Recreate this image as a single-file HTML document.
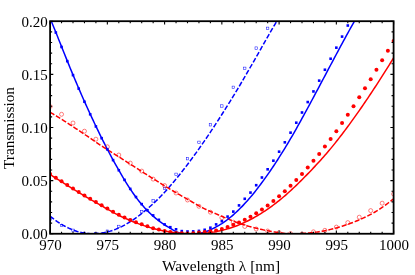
<!DOCTYPE html>
<html><head><meta charset="utf-8"><title>Transmission</title>
<style>html,body{margin:0;padding:0;background:#fff;}body{width:415px;height:275px;position:relative;overflow:hidden;font-family:"Liberation Serif",serif;} .t{font-family:"Liberation Serif",serif;}</style>
</head><body>
<svg width="415" height="275" viewBox="0 0 415 275" style="position:absolute;left:0;top:0">
<defs><clipPath id="c"><rect x="50.10" y="21.20" width="343.50" height="212.55"/></clipPath></defs>
<g clip-path="url(#c)" fill="none">
<path d="M50.10 216.16 L51.53 217.33 L52.96 218.45 L54.39 219.54 L55.83 220.58 L57.26 221.59 L58.69 222.55 L60.12 223.47 L61.55 224.35 L62.98 225.20 L64.41 226.00 L65.84 226.76 L67.28 227.48 L68.71 228.16 L70.14 228.80 L71.57 229.41 L73.00 229.97 L74.43 230.49 L75.86 230.97 L77.29 231.42 L78.72 231.82 L80.16 232.19 L81.59 232.52 L83.02 232.80 L84.45 233.05 L85.88 233.26 L87.31 233.44 L88.74 233.57 L90.17 233.67 L91.61 233.73 L93.04 233.75 L94.47 233.73 L95.90 233.68 L97.33 233.59 L98.76 233.46 L100.19 233.30 L101.62 233.10 L103.06 232.86 L104.49 232.59 L105.92 232.28 L107.35 231.93 L108.78 231.55 L110.21 231.14 L111.64 230.69 L113.07 230.20 L114.51 229.68 L115.94 229.13 L117.37 228.54 L118.80 227.91 L120.23 227.26 L121.66 226.57 L123.09 225.84 L124.53 225.08 L125.96 224.29 L127.39 223.47 L128.82 222.62 L130.25 221.73 L131.68 220.81 L133.11 219.86 L134.54 218.88 L135.97 217.87 L137.41 216.82 L138.84 215.75 L140.27 214.65 L141.70 213.51 L143.13 212.35 L144.56 211.18 L145.99 209.98 L147.42 208.77 L148.86 207.53 L150.29 206.27 L151.72 204.98 L153.15 203.68 L154.58 202.34 L156.01 200.99 L157.44 199.60 L158.88 198.19 L160.31 196.75 L161.74 195.28 L163.17 193.78 L164.60 192.24 L166.03 190.68 L167.46 189.10 L168.89 187.48 L170.32 185.85 L171.76 184.18 L173.19 182.50 L174.62 180.79 L176.05 179.06 L177.48 177.30 L178.91 175.53 L180.34 173.73 L181.77 171.92 L183.21 170.08 L184.64 168.23 L186.07 166.36 L187.50 164.47 L188.93 162.57 L190.36 160.65 L191.79 158.71 L193.22 156.76 L194.66 154.80 L196.09 152.82 L197.52 150.82 L198.95 148.81 L200.38 146.78 L201.81 144.74 L203.24 142.68 L204.67 140.60 L206.11 138.51 L207.54 136.39 L208.97 134.26 L210.40 132.12 L211.83 129.96 L213.26 127.78 L214.69 125.60 L216.12 123.40 L217.56 121.19 L218.99 118.97 L220.42 116.74 L221.85 114.50 L223.28 112.25 L224.71 109.98 L226.14 107.70 L227.57 105.41 L229.01 103.11 L230.44 100.80 L231.87 98.48 L233.30 96.15 L234.73 93.80 L236.16 91.44 L237.59 89.07 L239.02 86.67 L240.46 84.25 L241.89 81.82 L243.32 79.37 L244.75 76.92 L246.18 74.45 L247.61 71.97 L249.04 69.49 L250.47 67.00 L251.91 64.51 L253.34 62.02 L254.77 59.53 L256.20 57.04 L257.63 54.55 L259.06 52.04 L260.49 49.51 L261.93 46.98 L263.36 44.44 L264.79 41.90 L266.22 39.37 L267.65 36.85 L269.08 34.34 L270.51 31.86 L271.94 29.40 L273.38 26.97 L274.81 24.57 L276.24 22.21 L277.67 19.86 L279.10 17.52 L280.53 15.19 L281.96 12.86 L283.39 10.54 L284.82 8.23 L286.26 5.93 L287.69 3.64 L289.12 1.36 L290.55 -0.91 L291.98 -3.17 L293.41 -5.42 L294.84 -7.66 L296.27 -9.89 L297.71 -12.10 L299.14 -14.31 L300.57 -16.50 L302.00 -18.67 L303.43 -20.83 L304.86 -22.98 L306.29 -25.11 L307.73 -27.23 L309.16 -29.33 L310.59 -31.42 L312.02 -33.49 L313.45 -35.54 L314.88 -37.58 L316.31 -39.59 L317.74 -41.59 L319.18 -43.58 L320.61 -45.54 L322.04 -47.48 L323.47 -49.41 L324.90 -51.31 L326.33 -53.20 L327.76 -55.06 L329.19 -56.90 L330.62 -58.72 L332.06 -60.52 L333.49 -62.30 L334.92 -64.05 L336.35 -65.79 L337.78 -67.49 L339.21 -69.18 L340.64 -70.84 L342.07 -72.48 L343.51 -74.09 L344.94 -75.67 L346.37 -77.23 L347.80 -78.77 L349.23 -80.28 L350.66 -81.76 L352.09 -83.22 L353.52 -84.64 L354.96 -86.05 L356.39 -87.42 L357.82 -88.76 L359.25 -90.08 L360.68 -91.37 L362.11 -92.63 L363.54 -93.85 L364.98 -95.05 L366.41 -96.22 L367.84 -97.36 L369.27 -98.47 L370.70 -99.55 L372.13 -100.59 L373.56 -101.61 L374.99 -102.59 L376.43 -103.54 L377.86 -104.46 L379.29 -105.35 L380.72 -106.20 L382.15 -107.02 L383.58 -107.80 L385.01 -108.56 L386.44 -109.28 L387.88 -109.96 L389.31 -110.61 L390.74 -111.23 L392.17 -111.81 L393.60 -112.35" stroke="#0000ff" stroke-width="1.5" stroke-dasharray="5 1.9"/>
<path d="M50.10 112.16 L51.53 113.03 L52.96 113.90 L54.39 114.78 L55.83 115.66 L57.26 116.55 L58.69 117.44 L60.12 118.34 L61.55 119.25 L62.98 120.16 L64.41 121.07 L65.84 121.99 L67.28 122.91 L68.71 123.84 L70.14 124.77 L71.57 125.70 L73.00 126.64 L74.43 127.58 L75.86 128.53 L77.29 129.48 L78.72 130.43 L80.16 131.39 L81.59 132.35 L83.02 133.31 L84.45 134.28 L85.88 135.25 L87.31 136.22 L88.74 137.19 L90.17 138.17 L91.61 139.15 L93.04 140.13 L94.47 141.12 L95.90 142.10 L97.33 143.08 L98.76 144.05 L100.19 145.01 L101.62 145.95 L103.06 146.89 L104.49 147.82 L105.92 148.74 L107.35 149.66 L108.78 150.56 L110.21 151.47 L111.64 152.37 L113.07 153.27 L114.51 154.16 L115.94 155.05 L117.37 155.95 L118.80 156.84 L120.23 157.74 L121.66 158.64 L123.09 159.54 L124.53 160.44 L125.96 161.35 L127.39 162.27 L128.82 163.19 L130.25 164.12 L131.68 165.05 L133.11 165.97 L134.54 166.89 L135.97 167.81 L137.41 168.73 L138.84 169.65 L140.27 170.56 L141.70 171.47 L143.13 172.38 L144.56 173.29 L145.99 174.19 L147.42 175.10 L148.86 176.00 L150.29 176.90 L151.72 177.80 L153.15 178.70 L154.58 179.59 L156.01 180.48 L157.44 181.37 L158.88 182.26 L160.31 183.15 L161.74 184.04 L163.17 184.92 L164.60 185.81 L166.03 186.69 L167.46 187.56 L168.89 188.43 L170.32 189.30 L171.76 190.16 L173.19 191.01 L174.62 191.86 L176.05 192.71 L177.48 193.55 L178.91 194.38 L180.34 195.21 L181.77 196.03 L183.21 196.85 L184.64 197.67 L186.07 198.47 L187.50 199.28 L188.93 200.09 L190.36 200.91 L191.79 201.75 L193.22 202.59 L194.66 203.43 L196.09 204.26 L197.52 205.08 L198.95 205.88 L200.38 206.66 L201.81 207.40 L203.24 208.12 L204.67 208.82 L206.11 209.50 L207.54 210.16 L208.97 210.81 L210.40 211.45 L211.83 212.08 L213.26 212.70 L214.69 213.31 L216.12 213.92 L217.56 214.53 L218.99 215.13 L220.42 215.74 L221.85 216.35 L223.28 216.97 L224.71 217.58 L226.14 218.18 L227.57 218.78 L229.01 219.38 L230.44 219.97 L231.87 220.54 L233.30 221.11 L234.73 221.66 L236.16 222.20 L237.59 222.72 L239.02 223.22 L240.46 223.71 L241.89 224.18 L243.32 224.64 L244.75 225.09 L246.18 225.52 L247.61 225.94 L249.04 226.35 L250.47 226.75 L251.91 227.14 L253.34 227.51 L254.77 227.88 L256.20 228.23 L257.63 228.58 L259.06 228.91 L260.49 229.23 L261.93 229.55 L263.36 229.86 L264.79 230.16 L266.22 230.46 L267.65 230.76 L269.08 231.04 L270.51 231.32 L271.94 231.59 L273.38 231.85 L274.81 232.10 L276.24 232.33 L277.67 232.55 L279.10 232.75 L280.53 232.94 L281.96 233.11 L283.39 233.27 L284.82 233.40 L286.26 233.51 L287.69 233.60 L289.12 233.67 L290.55 233.71 L291.98 233.74 L293.41 233.75 L294.84 233.75 L296.27 233.73 L297.71 233.70 L299.14 233.66 L300.57 233.61 L302.00 233.54 L303.43 233.46 L304.86 233.36 L306.29 233.26 L307.73 233.14 L309.16 233.00 L310.59 232.85 L312.02 232.69 L313.45 232.52 L314.88 232.33 L316.31 232.13 L317.74 231.92 L319.18 231.69 L320.61 231.45 L322.04 231.19 L323.47 230.93 L324.90 230.65 L326.33 230.35 L327.76 230.04 L329.19 229.72 L330.62 229.39 L332.06 229.04 L333.49 228.68 L334.92 228.31 L336.35 227.92 L337.78 227.52 L339.21 227.10 L340.64 226.67 L342.07 226.23 L343.51 225.78 L344.94 225.31 L346.37 224.83 L347.80 224.34 L349.23 223.83 L350.66 223.31 L352.09 222.77 L353.52 222.21 L354.96 221.64 L356.39 221.05 L357.82 220.45 L359.25 219.84 L360.68 219.21 L362.11 218.56 L363.54 217.90 L364.98 217.22 L366.41 216.53 L367.84 215.83 L369.27 215.11 L370.70 214.38 L372.13 213.62 L373.56 212.83 L374.99 212.00 L376.43 211.14 L377.86 210.25 L379.29 209.33 L380.72 208.38 L382.15 207.40 L383.58 206.40 L385.01 205.38 L386.44 204.33 L387.88 203.27 L389.31 202.18 L390.74 201.08 L392.17 199.96 L393.60 198.82" stroke="#ff0000" stroke-width="1.5" stroke-dasharray="5 1.9"/>
<path d="M50.10 18.12 L51.53 21.66 L52.96 25.19 L54.39 28.71 L55.83 32.22 L57.26 35.77 L58.69 39.40 L60.12 43.04 L61.55 46.65 L62.98 50.23 L64.41 53.80 L65.84 57.35 L67.28 60.88 L68.71 64.40 L70.14 67.91 L71.57 71.40 L73.00 74.85 L74.43 78.26 L75.86 81.65 L77.29 85.01 L78.72 88.34 L80.16 91.65 L81.59 94.93 L83.02 98.19 L84.45 101.42 L85.88 104.61 L87.31 107.78 L88.74 110.92 L90.17 114.03 L91.61 117.11 L93.04 120.17 L94.47 123.20 L95.90 126.20 L97.33 129.19 L98.76 132.14 L100.19 135.07 L101.62 137.97 L103.06 140.84 L104.49 143.68 L105.92 146.49 L107.35 149.27 L108.78 152.01 L110.21 154.72 L111.64 157.40 L113.07 160.04 L114.51 162.64 L115.94 165.21 L117.37 167.74 L118.80 170.24 L120.23 172.72 L121.66 175.16 L123.09 177.57 L124.53 179.95 L125.96 182.29 L127.39 184.58 L128.82 186.83 L130.25 189.03 L131.68 191.17 L133.11 193.25 L134.54 195.27 L135.97 197.23 L137.41 199.11 L138.84 200.93 L140.27 202.69 L141.70 204.40 L143.13 206.05 L144.56 207.64 L145.99 209.18 L147.42 210.67 L148.86 212.11 L150.29 213.50 L151.72 214.84 L153.15 216.14 L154.58 217.39 L156.01 218.59 L157.44 219.76 L158.88 220.88 L160.31 221.96 L161.74 222.97 L163.17 223.93 L164.60 224.85 L166.03 225.74 L167.46 226.59 L168.89 227.43 L170.32 228.28 L171.76 229.15 L173.19 230.02 L174.62 230.85 L176.05 231.62 L177.48 232.29 L178.91 232.82 L180.34 233.20 L181.77 233.45 L183.21 233.61 L184.64 233.71 L186.07 233.75 L187.50 233.75 L188.93 233.75 L190.36 233.75 L191.79 233.75 L193.22 233.75 L194.66 233.75 L196.09 233.75 L197.52 233.67 L198.95 233.45 L200.38 233.17 L201.81 232.84 L203.24 232.45 L204.67 232.02 L206.11 231.54 L207.54 231.01 L208.97 230.43 L210.40 229.81 L211.83 229.15 L213.26 228.45 L214.69 227.72 L216.12 226.95 L217.56 226.15 L218.99 225.32 L220.42 224.45 L221.85 223.55 L223.28 222.60 L224.71 221.61 L226.14 220.58 L227.57 219.51 L229.01 218.39 L230.44 217.24 L231.87 216.05 L233.30 214.81 L234.73 213.54 L236.16 212.23 L237.59 210.88 L239.02 209.50 L240.46 208.08 L241.89 206.62 L243.32 205.13 L244.75 203.60 L246.18 202.03 L247.61 200.43 L249.04 198.80 L250.47 197.13 L251.91 195.42 L253.34 193.68 L254.77 191.91 L256.20 190.11 L257.63 188.27 L259.06 186.40 L260.49 184.50 L261.93 182.57 L263.36 180.63 L264.79 178.65 L266.22 176.66 L267.65 174.63 L269.08 172.58 L270.51 170.51 L271.94 168.41 L273.38 166.28 L274.81 164.12 L276.24 161.93 L277.67 159.72 L279.10 157.47 L280.53 155.21 L281.96 152.92 L283.39 150.61 L284.82 148.28 L286.26 145.93 L287.69 143.55 L289.12 141.15 L290.55 138.73 L291.98 136.28 L293.41 133.81 L294.84 131.31 L296.27 128.78 L297.71 126.23 L299.14 123.66 L300.57 121.08 L302.00 118.48 L303.43 115.88 L304.86 113.26 L306.29 110.63 L307.73 107.99 L309.16 105.34 L310.59 102.68 L312.02 100.01 L313.45 97.34 L314.88 94.66 L316.31 91.97 L317.74 89.28 L319.18 86.59 L320.61 83.89 L322.04 81.19 L323.47 78.49 L324.90 75.78 L326.33 73.08 L327.76 70.38 L329.19 67.68 L330.62 64.98 L332.06 62.28 L333.49 59.59 L334.92 56.91 L336.35 54.23 L337.78 51.55 L339.21 48.88 L340.64 46.23 L342.07 43.58 L343.51 40.94 L344.94 38.31 L346.37 35.69 L347.80 33.09 L349.23 30.49 L350.66 27.92 L352.09 25.35 L353.52 22.81 L354.96 20.27 L356.39 17.76 L357.82 15.27 L359.25 12.79 L360.68 10.33 L362.11 7.90 L363.54 5.48 L364.98 3.09 L366.41 0.72 L367.84 -1.62 L369.27 -3.94 L370.70 -6.24 L372.13 -8.51 L373.56 -10.75 L374.99 -12.96 L376.43 -15.14 L377.86 -17.30 L379.29 -19.42 L380.72 -21.52 L382.15 -23.58 L383.58 -25.61 L385.01 -27.60 L386.44 -29.56 L387.88 -31.49 L389.31 -33.38 L390.74 -35.23 L392.17 -37.05 L393.60 -38.83" stroke="#0000ff" stroke-width="1.5"/>
<path d="M50.10 174.53 L51.53 175.44 L52.96 176.34 L54.39 177.25 L55.83 178.16 L57.26 179.06 L58.69 179.97 L60.12 180.88 L61.55 181.78 L62.98 182.68 L64.41 183.58 L65.84 184.48 L67.28 185.38 L68.71 186.27 L70.14 187.16 L71.57 188.05 L73.00 188.94 L74.43 189.82 L75.86 190.70 L77.29 191.58 L78.72 192.45 L80.16 193.32 L81.59 194.19 L83.02 195.05 L84.45 195.90 L85.88 196.76 L87.31 197.60 L88.74 198.44 L90.17 199.28 L91.61 200.11 L93.04 200.93 L94.47 201.75 L95.90 202.57 L97.33 203.38 L98.76 204.20 L100.19 205.02 L101.62 205.84 L103.06 206.66 L104.49 207.48 L105.92 208.29 L107.35 209.11 L108.78 209.92 L110.21 210.72 L111.64 211.51 L113.07 212.29 L114.51 213.06 L115.94 213.82 L117.37 214.57 L118.80 215.30 L120.23 216.01 L121.66 216.71 L123.09 217.39 L124.53 218.04 L125.96 218.68 L127.39 219.31 L128.82 219.92 L130.25 220.52 L131.68 221.11 L133.11 221.69 L134.54 222.25 L135.97 222.80 L137.41 223.34 L138.84 223.86 L140.27 224.37 L141.70 224.87 L143.13 225.36 L144.56 225.84 L145.99 226.30 L147.42 226.75 L148.86 227.18 L150.29 227.61 L151.72 228.02 L153.15 228.42 L154.58 228.81 L156.01 229.18 L157.44 229.54 L158.88 229.88 L160.31 230.20 L161.74 230.51 L163.17 230.81 L164.60 231.09 L166.03 231.35 L167.46 231.60 L168.89 231.84 L170.32 232.06 L171.76 232.27 L173.19 232.46 L174.62 232.64 L176.05 232.81 L177.48 232.96 L178.91 233.10 L180.34 233.23 L181.77 233.34 L183.21 233.44 L184.64 233.53 L186.07 233.60 L187.50 233.66 L188.93 233.71 L190.36 233.74 L191.79 233.75 L193.22 233.75 L194.66 233.75 L196.09 233.73 L197.52 233.68 L198.95 233.63 L200.38 233.55 L201.81 233.46 L203.24 233.36 L204.67 233.23 L206.11 233.09 L207.54 232.94 L208.97 232.76 L210.40 232.57 L211.83 232.36 L213.26 232.13 L214.69 231.89 L216.12 231.62 L217.56 231.34 L218.99 231.04 L220.42 230.72 L221.85 230.38 L223.28 230.03 L224.71 229.65 L226.14 229.27 L227.57 228.86 L229.01 228.43 L230.44 227.99 L231.87 227.52 L233.30 227.03 L234.73 226.53 L236.16 226.00 L237.59 225.45 L239.02 224.87 L240.46 224.28 L241.89 223.66 L243.32 223.02 L244.75 222.36 L246.18 221.68 L247.61 220.98 L249.04 220.26 L250.47 219.52 L251.91 218.76 L253.34 217.98 L254.77 217.18 L256.20 216.36 L257.63 215.52 L259.06 214.67 L260.49 213.79 L261.93 212.89 L263.36 211.98 L264.79 211.04 L266.22 210.08 L267.65 209.11 L269.08 208.11 L270.51 207.09 L271.94 206.05 L273.38 205.00 L274.81 203.92 L276.24 202.82 L277.67 201.71 L279.10 200.57 L280.53 199.42 L281.96 198.24 L283.39 197.04 L284.82 195.82 L286.26 194.57 L287.69 193.31 L289.12 192.03 L290.55 190.73 L291.98 189.41 L293.41 188.07 L294.84 186.72 L296.27 185.35 L297.71 183.96 L299.14 182.56 L300.57 181.14 L302.00 179.72 L303.43 178.27 L304.86 176.82 L306.29 175.36 L307.73 173.88 L309.16 172.40 L310.59 170.90 L312.02 169.40 L313.45 167.89 L314.88 166.37 L316.31 164.83 L317.74 163.29 L319.18 161.72 L320.61 160.15 L322.04 158.56 L323.47 156.95 L324.90 155.32 L326.33 153.67 L327.76 152.01 L329.19 150.32 L330.62 148.62 L332.06 146.89 L333.49 145.13 L334.92 143.35 L336.35 141.55 L337.78 139.73 L339.21 137.89 L340.64 136.04 L342.07 134.17 L343.51 132.28 L344.94 130.38 L346.37 128.47 L347.80 126.54 L349.23 124.59 L350.66 122.63 L352.09 120.66 L353.52 118.67 L354.96 116.67 L356.39 114.65 L357.82 112.63 L359.25 110.58 L360.68 108.53 L362.11 106.46 L363.54 104.37 L364.98 102.28 L366.41 100.17 L367.84 98.05 L369.27 95.91 L370.70 93.77 L372.13 91.61 L373.56 89.44 L374.99 87.25 L376.43 85.06 L377.86 82.85 L379.29 80.64 L380.72 78.41 L382.15 76.17 L383.58 73.92 L385.01 71.66 L386.44 69.39 L387.88 67.11 L389.31 64.82 L390.74 62.52 L392.17 60.21 L393.60 57.89" stroke="#ff0000" stroke-width="1.5"/>
<rect x="48.90" y="218.30" width="2.4" height="2.4" stroke="#0000ff" stroke-width="0.5"/>
<rect x="60.35" y="224.30" width="2.4" height="2.4" stroke="#0000ff" stroke-width="0.5"/>
<rect x="71.80" y="229.10" width="2.4" height="2.4" stroke="#0000ff" stroke-width="0.5"/>
<rect x="83.25" y="232.10" width="2.4" height="2.4" stroke="#0000ff" stroke-width="0.5"/>
<rect x="94.70" y="232.40" width="2.4" height="2.4" stroke="#0000ff" stroke-width="0.5"/>
<rect x="106.15" y="230.00" width="2.4" height="2.4" stroke="#0000ff" stroke-width="0.5"/>
<rect x="117.60" y="225.20" width="2.4" height="2.4" stroke="#0000ff" stroke-width="0.5"/>
<rect x="129.05" y="219.00" width="2.4" height="2.4" stroke="#0000ff" stroke-width="0.5"/>
<rect x="140.50" y="210.60" width="2.4" height="2.4" stroke="#0000ff" stroke-width="0.5"/>
<rect x="151.95" y="199.70" width="2.4" height="2.4" stroke="#0000ff" stroke-width="0.5"/>
<rect x="163.40" y="187.10" width="2.4" height="2.4" stroke="#0000ff" stroke-width="0.5"/>
<rect x="174.85" y="173.10" width="2.4" height="2.4" stroke="#0000ff" stroke-width="0.5"/>
<rect x="186.30" y="157.50" width="2.4" height="2.4" stroke="#0000ff" stroke-width="0.5"/>
<rect x="197.75" y="141.10" width="2.4" height="2.4" stroke="#0000ff" stroke-width="0.5"/>
<rect x="209.20" y="123.60" width="2.4" height="2.4" stroke="#0000ff" stroke-width="0.5"/>
<rect x="220.65" y="104.80" width="2.4" height="2.4" stroke="#0000ff" stroke-width="0.5"/>
<rect x="232.10" y="86.10" width="2.4" height="2.4" stroke="#0000ff" stroke-width="0.5"/>
<rect x="243.55" y="67.10" width="2.4" height="2.4" stroke="#0000ff" stroke-width="0.5"/>
<rect x="255.00" y="46.90" width="2.4" height="2.4" stroke="#0000ff" stroke-width="0.5"/>
<rect x="266.45" y="27.10" width="2.4" height="2.4" stroke="#0000ff" stroke-width="0.5"/>
<circle cx="50.10" cy="106.50" r="2.0" stroke="#ff0000" stroke-width="0.5"/>
<circle cx="61.55" cy="114.30" r="2.0" stroke="#ff0000" stroke-width="0.5"/>
<circle cx="73.00" cy="123.00" r="2.0" stroke="#ff0000" stroke-width="0.5"/>
<circle cx="84.45" cy="131.20" r="2.0" stroke="#ff0000" stroke-width="0.5"/>
<circle cx="95.90" cy="139.20" r="2.0" stroke="#ff0000" stroke-width="0.5"/>
<circle cx="107.35" cy="146.80" r="2.0" stroke="#ff0000" stroke-width="0.5"/>
<circle cx="118.80" cy="155.00" r="2.0" stroke="#ff0000" stroke-width="0.5"/>
<circle cx="130.25" cy="163.10" r="2.0" stroke="#ff0000" stroke-width="0.5"/>
<circle cx="141.70" cy="171.10" r="2.0" stroke="#ff0000" stroke-width="0.5"/>
<circle cx="153.15" cy="179.10" r="2.0" stroke="#ff0000" stroke-width="0.5"/>
<circle cx="164.60" cy="185.60" r="2.0" stroke="#ff0000" stroke-width="0.5"/>
<circle cx="176.05" cy="193.00" r="2.0" stroke="#ff0000" stroke-width="0.5"/>
<circle cx="187.50" cy="200.00" r="2.0" stroke="#ff0000" stroke-width="0.5"/>
<circle cx="198.95" cy="206.30" r="2.0" stroke="#ff0000" stroke-width="0.5"/>
<circle cx="210.40" cy="212.20" r="2.0" stroke="#ff0000" stroke-width="0.5"/>
<circle cx="221.85" cy="217.70" r="2.0" stroke="#ff0000" stroke-width="0.5"/>
<circle cx="233.30" cy="222.20" r="2.0" stroke="#ff0000" stroke-width="0.5"/>
<circle cx="244.75" cy="226.50" r="2.0" stroke="#ff0000" stroke-width="0.5"/>
<circle cx="256.20" cy="229.00" r="2.0" stroke="#ff0000" stroke-width="0.5"/>
<circle cx="267.65" cy="231.00" r="2.0" stroke="#ff0000" stroke-width="0.5"/>
<circle cx="279.10" cy="232.60" r="2.0" stroke="#ff0000" stroke-width="0.5"/>
<circle cx="290.55" cy="233.60" r="2.0" stroke="#ff0000" stroke-width="0.5"/>
<circle cx="302.00" cy="234.00" r="2.0" stroke="#ff0000" stroke-width="0.5"/>
<circle cx="313.45" cy="231.80" r="2.0" stroke="#ff0000" stroke-width="0.5"/>
<circle cx="324.90" cy="230.30" r="2.0" stroke="#ff0000" stroke-width="0.5"/>
<circle cx="336.35" cy="227.10" r="2.0" stroke="#ff0000" stroke-width="0.5"/>
<circle cx="347.80" cy="222.60" r="2.0" stroke="#ff0000" stroke-width="0.5"/>
<circle cx="359.25" cy="217.20" r="2.0" stroke="#ff0000" stroke-width="0.5"/>
<circle cx="370.70" cy="210.60" r="2.0" stroke="#ff0000" stroke-width="0.5"/>
<circle cx="382.15" cy="203.20" r="2.0" stroke="#ff0000" stroke-width="0.5"/>
<circle cx="393.60" cy="194.00" r="2.0" stroke="#ff0000" stroke-width="0.5"/>
<rect x="54.53" y="31.22" width="2.6" height="2.6" fill="#0000ff"/>
<rect x="60.25" y="45.65" width="2.6" height="2.6" fill="#0000ff"/>
<rect x="65.98" y="59.88" width="2.6" height="2.6" fill="#0000ff"/>
<rect x="71.70" y="73.85" width="2.6" height="2.6" fill="#0000ff"/>
<rect x="77.42" y="87.34" width="2.6" height="2.6" fill="#0000ff"/>
<rect x="83.15" y="100.42" width="2.6" height="2.6" fill="#0000ff"/>
<rect x="88.88" y="113.01" width="2.6" height="2.6" fill="#0000ff"/>
<rect x="94.60" y="125.15" width="2.6" height="2.6" fill="#0000ff"/>
<rect x="100.33" y="136.87" width="2.6" height="2.6" fill="#0000ff"/>
<rect x="106.05" y="148.10" width="2.6" height="2.6" fill="#0000ff"/>
<rect x="111.77" y="158.80" width="2.6" height="2.6" fill="#0000ff"/>
<rect x="117.50" y="168.94" width="2.6" height="2.6" fill="#0000ff"/>
<rect x="123.23" y="178.59" width="2.6" height="2.6" fill="#0000ff"/>
<rect x="128.95" y="187.59" width="2.6" height="2.6" fill="#0000ff"/>
<rect x="134.67" y="195.72" width="2.6" height="2.6" fill="#0000ff"/>
<rect x="140.40" y="202.81" width="2.6" height="2.6" fill="#0000ff"/>
<rect x="146.12" y="208.98" width="2.6" height="2.6" fill="#0000ff"/>
<rect x="151.85" y="214.10" width="2.6" height="2.6" fill="#0000ff"/>
<rect x="157.57" y="218.50" width="2.6" height="2.6" fill="#0000ff"/>
<rect x="163.30" y="223.10" width="2.6" height="2.6" fill="#0000ff"/>
<rect x="169.02" y="225.90" width="2.6" height="2.6" fill="#0000ff"/>
<rect x="174.75" y="228.00" width="2.6" height="2.6" fill="#0000ff"/>
<rect x="180.47" y="229.80" width="2.6" height="2.6" fill="#0000ff"/>
<rect x="186.20" y="230.20" width="2.6" height="2.6" fill="#0000ff"/>
<rect x="191.92" y="230.10" width="2.6" height="2.6" fill="#0000ff"/>
<rect x="197.65" y="229.60" width="2.6" height="2.6" fill="#0000ff"/>
<rect x="203.37" y="228.50" width="2.6" height="2.6" fill="#0000ff"/>
<rect x="209.10" y="226.40" width="2.6" height="2.6" fill="#0000ff"/>
<rect x="214.82" y="223.10" width="2.6" height="2.6" fill="#0000ff"/>
<rect x="220.55" y="219.90" width="2.6" height="2.6" fill="#0000ff"/>
<rect x="226.27" y="215.30" width="2.6" height="2.6" fill="#0000ff"/>
<rect x="232.00" y="210.30" width="2.6" height="2.6" fill="#0000ff"/>
<rect x="237.72" y="204.10" width="2.6" height="2.6" fill="#0000ff"/>
<rect x="243.45" y="197.50" width="2.6" height="2.6" fill="#0000ff"/>
<rect x="249.17" y="191.30" width="2.6" height="2.6" fill="#0000ff"/>
<rect x="254.90" y="183.90" width="2.6" height="2.6" fill="#0000ff"/>
<rect x="260.62" y="176.20" width="2.6" height="2.6" fill="#0000ff"/>
<rect x="266.35" y="168.00" width="2.6" height="2.6" fill="#0000ff"/>
<rect x="272.07" y="159.38" width="2.6" height="2.6" fill="#0000ff"/>
<rect x="277.80" y="150.38" width="2.6" height="2.6" fill="#0000ff"/>
<rect x="283.52" y="141.03" width="2.6" height="2.6" fill="#0000ff"/>
<rect x="289.25" y="131.37" width="2.6" height="2.6" fill="#0000ff"/>
<rect x="294.97" y="121.41" width="2.6" height="2.6" fill="#0000ff"/>
<rect x="300.70" y="111.20" width="2.6" height="2.6" fill="#0000ff"/>
<rect x="306.43" y="100.76" width="2.6" height="2.6" fill="#0000ff"/>
<rect x="312.15" y="90.13" width="2.6" height="2.6" fill="#0000ff"/>
<rect x="317.88" y="79.35" width="2.6" height="2.6" fill="#0000ff"/>
<rect x="323.60" y="68.44" width="2.6" height="2.6" fill="#0000ff"/>
<rect x="329.32" y="57.44" width="2.6" height="2.6" fill="#0000ff"/>
<rect x="335.05" y="46.38" width="2.6" height="2.6" fill="#0000ff"/>
<rect x="340.77" y="35.30" width="2.6" height="2.6" fill="#0000ff"/>
<rect x="346.50" y="24.23" width="2.6" height="2.6" fill="#0000ff"/>
<circle cx="50.10" cy="174.03" r="2.0" fill="#ff0000"/>
<circle cx="55.83" cy="177.66" r="2.0" fill="#ff0000"/>
<circle cx="61.55" cy="181.28" r="2.0" fill="#ff0000"/>
<circle cx="67.28" cy="184.88" r="2.0" fill="#ff0000"/>
<circle cx="73.00" cy="188.44" r="2.0" fill="#ff0000"/>
<circle cx="78.72" cy="191.95" r="2.0" fill="#ff0000"/>
<circle cx="84.45" cy="195.40" r="2.0" fill="#ff0000"/>
<circle cx="90.17" cy="198.78" r="2.0" fill="#ff0000"/>
<circle cx="95.90" cy="202.07" r="2.0" fill="#ff0000"/>
<circle cx="101.62" cy="205.34" r="2.0" fill="#ff0000"/>
<circle cx="107.35" cy="208.61" r="2.0" fill="#ff0000"/>
<circle cx="113.07" cy="211.79" r="2.0" fill="#ff0000"/>
<circle cx="118.80" cy="214.80" r="2.0" fill="#ff0000"/>
<circle cx="124.53" cy="217.54" r="2.0" fill="#ff0000"/>
<circle cx="130.25" cy="220.02" r="2.0" fill="#ff0000"/>
<circle cx="135.97" cy="222.30" r="2.0" fill="#ff0000"/>
<circle cx="141.70" cy="224.37" r="2.0" fill="#ff0000"/>
<circle cx="147.42" cy="226.25" r="2.0" fill="#ff0000"/>
<circle cx="153.15" cy="228.20" r="2.0" fill="#ff0000"/>
<circle cx="158.88" cy="229.50" r="2.0" fill="#ff0000"/>
<circle cx="164.60" cy="230.90" r="2.0" fill="#ff0000"/>
<circle cx="170.32" cy="232.00" r="2.0" fill="#ff0000"/>
<circle cx="176.05" cy="232.90" r="2.0" fill="#ff0000"/>
<circle cx="181.77" cy="233.30" r="2.0" fill="#ff0000"/>
<circle cx="187.50" cy="233.40" r="2.0" fill="#ff0000"/>
<circle cx="193.22" cy="233.30" r="2.0" fill="#ff0000"/>
<circle cx="198.95" cy="232.60" r="2.0" fill="#ff0000"/>
<circle cx="204.67" cy="232.00" r="2.0" fill="#ff0000"/>
<circle cx="210.40" cy="231.30" r="2.0" fill="#ff0000"/>
<circle cx="216.12" cy="230.40" r="2.0" fill="#ff0000"/>
<circle cx="221.85" cy="229.00" r="2.0" fill="#ff0000"/>
<circle cx="227.57" cy="227.10" r="2.0" fill="#ff0000"/>
<circle cx="233.30" cy="224.80" r="2.0" fill="#ff0000"/>
<circle cx="239.02" cy="222.50" r="2.0" fill="#ff0000"/>
<circle cx="244.75" cy="219.72" r="2.0" fill="#ff0000"/>
<circle cx="250.47" cy="216.64" r="2.0" fill="#ff0000"/>
<circle cx="256.20" cy="213.24" r="2.0" fill="#ff0000"/>
<circle cx="261.93" cy="209.49" r="2.0" fill="#ff0000"/>
<circle cx="267.65" cy="205.42" r="2.0" fill="#ff0000"/>
<circle cx="273.38" cy="201.00" r="2.0" fill="#ff0000"/>
<circle cx="279.10" cy="196.25" r="2.0" fill="#ff0000"/>
<circle cx="284.82" cy="191.17" r="2.0" fill="#ff0000"/>
<circle cx="290.55" cy="185.76" r="2.0" fill="#ff0000"/>
<circle cx="296.27" cy="180.02" r="2.0" fill="#ff0000"/>
<circle cx="302.00" cy="173.95" r="2.0" fill="#ff0000"/>
<circle cx="307.73" cy="167.57" r="2.0" fill="#ff0000"/>
<circle cx="313.45" cy="160.87" r="2.0" fill="#ff0000"/>
<circle cx="319.18" cy="153.88" r="2.0" fill="#ff0000"/>
<circle cx="324.90" cy="146.59" r="2.0" fill="#ff0000"/>
<circle cx="330.62" cy="139.02" r="2.0" fill="#ff0000"/>
<circle cx="336.35" cy="131.17" r="2.0" fill="#ff0000"/>
<circle cx="342.07" cy="123.07" r="2.0" fill="#ff0000"/>
<circle cx="347.80" cy="114.72" r="2.0" fill="#ff0000"/>
<circle cx="353.52" cy="106.14" r="2.0" fill="#ff0000"/>
<circle cx="359.25" cy="97.34" r="2.0" fill="#ff0000"/>
<circle cx="364.98" cy="88.35" r="2.0" fill="#ff0000"/>
<circle cx="370.70" cy="79.17" r="2.0" fill="#ff0000"/>
<circle cx="376.43" cy="69.83" r="2.0" fill="#ff0000"/>
<circle cx="382.15" cy="60.34" r="2.0" fill="#ff0000"/>
<circle cx="387.88" cy="50.73" r="2.0" fill="#ff0000"/>
<circle cx="393.60" cy="41.02" r="2.0" fill="#ff0000"/>
</g>
<path d="M50.10 233.75 v-3.20 M50.10 21.20 v3.20 M61.55 233.75 v-2.10 M61.55 21.20 v2.10 M73.00 233.75 v-2.10 M73.00 21.20 v2.10 M84.45 233.75 v-2.10 M84.45 21.20 v2.10 M95.90 233.75 v-2.10 M95.90 21.20 v2.10 M107.35 233.75 v-3.20 M107.35 21.20 v3.20 M118.80 233.75 v-2.10 M118.80 21.20 v2.10 M130.25 233.75 v-2.10 M130.25 21.20 v2.10 M141.70 233.75 v-2.10 M141.70 21.20 v2.10 M153.15 233.75 v-2.10 M153.15 21.20 v2.10 M164.60 233.75 v-3.20 M164.60 21.20 v3.20 M176.05 233.75 v-2.10 M176.05 21.20 v2.10 M187.50 233.75 v-2.10 M187.50 21.20 v2.10 M198.95 233.75 v-2.10 M198.95 21.20 v2.10 M210.40 233.75 v-2.10 M210.40 21.20 v2.10 M221.85 233.75 v-3.20 M221.85 21.20 v3.20 M233.30 233.75 v-2.10 M233.30 21.20 v2.10 M244.75 233.75 v-2.10 M244.75 21.20 v2.10 M256.20 233.75 v-2.10 M256.20 21.20 v2.10 M267.65 233.75 v-2.10 M267.65 21.20 v2.10 M279.10 233.75 v-3.20 M279.10 21.20 v3.20 M290.55 233.75 v-2.10 M290.55 21.20 v2.10 M302.00 233.75 v-2.10 M302.00 21.20 v2.10 M313.45 233.75 v-2.10 M313.45 21.20 v2.10 M324.90 233.75 v-2.10 M324.90 21.20 v2.10 M336.35 233.75 v-3.20 M336.35 21.20 v3.20 M347.80 233.75 v-2.10 M347.80 21.20 v2.10 M359.25 233.75 v-2.10 M359.25 21.20 v2.10 M370.70 233.75 v-2.10 M370.70 21.20 v2.10 M382.15 233.75 v-2.10 M382.15 21.20 v2.10 M393.60 233.75 v-3.20 M393.60 21.20 v3.20 M50.10 233.75 h3.20 M393.60 233.75 h-3.20 M50.10 223.12 h2.05 M393.60 223.12 h-2.05 M50.10 212.50 h2.05 M393.60 212.50 h-2.05 M50.10 201.87 h2.05 M393.60 201.87 h-2.05 M50.10 191.24 h2.05 M393.60 191.24 h-2.05 M50.10 180.61 h3.20 M393.60 180.61 h-3.20 M50.10 169.99 h2.05 M393.60 169.99 h-2.05 M50.10 159.36 h2.05 M393.60 159.36 h-2.05 M50.10 148.73 h2.05 M393.60 148.73 h-2.05 M50.10 138.10 h2.05 M393.60 138.10 h-2.05 M50.10 127.47 h3.20 M393.60 127.47 h-3.20 M50.10 116.85 h2.05 M393.60 116.85 h-2.05 M50.10 106.22 h2.05 M393.60 106.22 h-2.05 M50.10 95.59 h2.05 M393.60 95.59 h-2.05 M50.10 84.96 h2.05 M393.60 84.96 h-2.05 M50.10 74.34 h3.20 M393.60 74.34 h-3.20 M50.10 63.71 h2.05 M393.60 63.71 h-2.05 M50.10 53.08 h2.05 M393.60 53.08 h-2.05 M50.10 42.46 h2.05 M393.60 42.46 h-2.05 M50.10 31.83 h2.05 M393.60 31.83 h-2.05 M50.10 21.20 h3.20 M393.60 21.20 h-3.20" stroke="#000" stroke-width="1.1" fill="none"/>
<rect x="50.10" y="21.20" width="343.50" height="212.55" fill="none" stroke="#000" stroke-width="1.8"/>
</svg>
<svg width="415" height="275" viewBox="0 0 415 275" style="position:absolute;left:0;top:0;will-change:transform;opacity:0.999">
<g class="t" font-size="15px" fill="#000">
<text x="50.50" y="250" text-anchor="middle">970</text>
<text x="107.75" y="250" text-anchor="middle">975</text>
<text x="165.00" y="250" text-anchor="middle">980</text>
<text x="222.25" y="250" text-anchor="middle">985</text>
<text x="279.50" y="250" text-anchor="middle">990</text>
<text x="336.75" y="250" text-anchor="middle">995</text>
<text x="394.00" y="250" text-anchor="middle">1000</text>
<text x="47.8" y="239.05" text-anchor="end">0.00</text>
<text x="47.8" y="185.91" text-anchor="end">0.05</text>
<text x="47.8" y="132.78" text-anchor="end">0.10</text>
<text x="47.8" y="79.64" text-anchor="end">0.15</text>
<text x="47.8" y="26.50" text-anchor="end">0.20</text>
<text x="221" y="270.8" text-anchor="middle" font-size="15.4px">Wavelength λ [nm]</text>
<text transform="translate(13.5,128) rotate(-90)" text-anchor="middle" font-size="15.3px">Transmission</text>
</g>
</svg>
</body></html>
